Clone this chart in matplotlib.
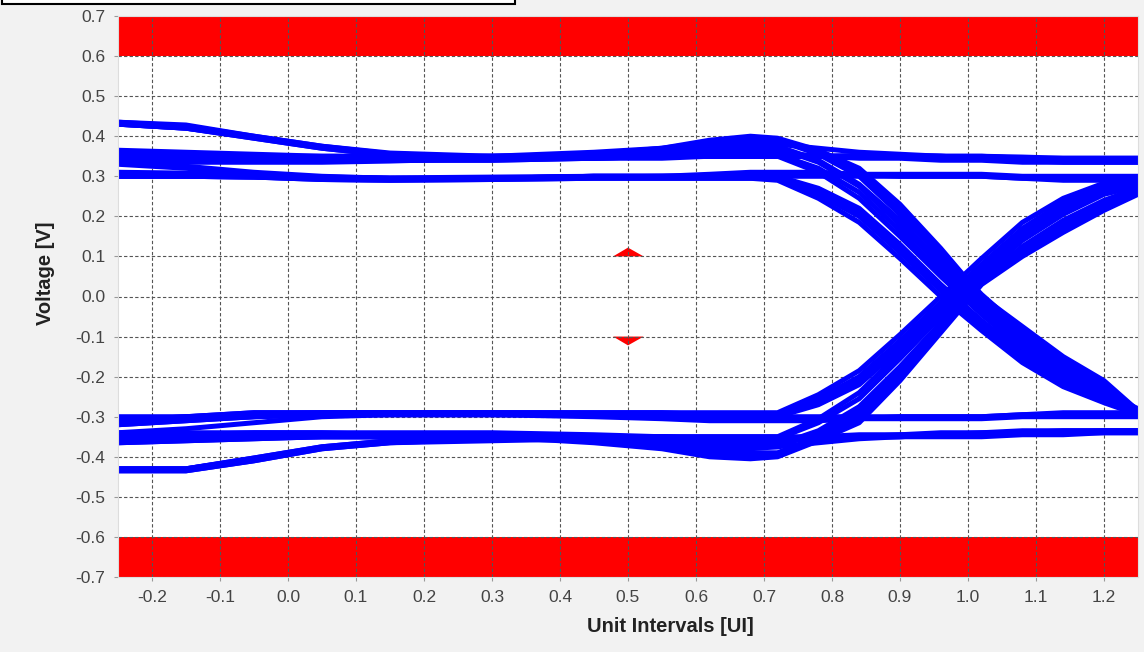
import numpy as np
import matplotlib.pyplot as plt
from matplotlib.patches import Rectangle, Polygon

plt.rcParams['font.family'] = ['Liberation Sans', 'DejaVu Sans']
plt.rcParams['axes.unicode_minus'] = False

# sample instants (UI) shared by every trace
ui = [-0.25, -0.15, -0.05, 0.05, 0.15, 0.3, 0.45, 0.55, 0.62, 0.68,
      0.72, 0.78, 0.84, 0.9, 0.96, 1.02, 1.08, 1.14, 1.2, 1.25]

# traces that stay high for the whole window (V)
high_traces = [
    [0.43, 0.42, 0.395, 0.37, 0.352, 0.345, 0.345, 0.35, 0.35, 0.35, 0.35, 0.35, 0.35, 0.35, 0.35, 0.345, 0.345, 0.34, 0.34, 0.34],
    [0.435, 0.428, 0.40, 0.375, 0.358, 0.35, 0.35, 0.35, 0.35, 0.35, 0.35, 0.35, 0.352, 0.352, 0.35, 0.35, 0.348, 0.345, 0.345, 0.345],
    [0.35, 0.345, 0.34, 0.34, 0.34, 0.34, 0.345, 0.35, 0.36, 0.365, 0.36, 0.35, 0.345, 0.345, 0.34, 0.34, 0.335, 0.335, 0.335, 0.335],
    [0.365, 0.36, 0.355, 0.35, 0.35, 0.35, 0.35, 0.35, 0.35, 0.35, 0.35, 0.35, 0.35, 0.35, 0.35, 0.35, 0.345, 0.345, 0.345, 0.345],
    [0.30, 0.30, 0.298, 0.292, 0.29, 0.292, 0.295, 0.295, 0.295, 0.295, 0.30, 0.30, 0.30, 0.30, 0.30, 0.30, 0.295, 0.295, 0.295, 0.295],
    [0.305, 0.305, 0.302, 0.298, 0.296, 0.298, 0.30, 0.30, 0.30, 0.30, 0.305, 0.305, 0.305, 0.305, 0.305, 0.305, 0.30, 0.30, 0.30, 0.30],
    [0.34, 0.325, 0.31, 0.30, 0.295, 0.295, 0.30, 0.30, 0.305, 0.31, 0.31, 0.31, 0.305, 0.30, 0.30, 0.30, 0.295, 0.29, 0.29, 0.29],
    [0.43, 0.42, 0.398, 0.372, 0.355, 0.342, 0.35, 0.36, 0.375, 0.38, 0.38, 0.37, 0.36, 0.355, 0.35, 0.345, 0.34, 0.335, 0.335, 0.335],
]

# traces that stay low for the whole window (V)
low_traces = [
    [-0.43, -0.43, -0.403, -0.375, -0.36, -0.355, -0.35, -0.35, -0.355, -0.355, -0.355, -0.35, -0.35, -0.345, -0.345, -0.345, -0.34, -0.34, -0.335, -0.335],
    [-0.435, -0.435, -0.41, -0.38, -0.365, -0.36, -0.355, -0.355, -0.36, -0.36, -0.36, -0.355, -0.35, -0.35, -0.345, -0.345, -0.34, -0.34, -0.34, -0.34],
    [-0.35, -0.345, -0.34, -0.34, -0.34, -0.34, -0.345, -0.35, -0.36, -0.365, -0.36, -0.35, -0.345, -0.345, -0.34, -0.34, -0.335, -0.335, -0.335, -0.335],
    [-0.365, -0.36, -0.355, -0.35, -0.35, -0.35, -0.35, -0.35, -0.35, -0.35, -0.35, -0.35, -0.35, -0.35, -0.35, -0.35, -0.345, -0.345, -0.34, -0.34],
    [-0.31, -0.30, -0.29, -0.29, -0.29, -0.29, -0.29, -0.29, -0.295, -0.30, -0.30, -0.30, -0.30, -0.30, -0.30, -0.30, -0.295, -0.295, -0.295, -0.295],
    [-0.305, -0.305, -0.30, -0.295, -0.293, -0.293, -0.295, -0.297, -0.30, -0.305, -0.305, -0.305, -0.305, -0.305, -0.305, -0.305, -0.30, -0.30, -0.30, -0.30],
    [-0.32, -0.31, -0.30, -0.295, -0.295, -0.295, -0.30, -0.305, -0.31, -0.31, -0.31, -0.31, -0.305, -0.30, -0.30, -0.30, -0.295, -0.29, -0.29, -0.29],
    [-0.43, -0.43, -0.405, -0.378, -0.362, -0.355, -0.36, -0.37, -0.38, -0.38, -0.375, -0.365, -0.355, -0.35, -0.345, -0.34, -0.34, -0.335, -0.335, -0.335],
]

# high -> low transitions (V)
falling_traces = [
    [0.30, 0.30, 0.298, 0.292, 0.29, 0.292, 0.295, 0.295, 0.295, 0.295, 0.29, 0.245, 0.185, 0.095, 0.0, -0.085, -0.165, -0.225, -0.265, -0.295],
    [0.31, 0.308, 0.302, 0.296, 0.294, 0.295, 0.30, 0.30, 0.30, 0.30, 0.295, 0.255, 0.20, 0.11, 0.015, -0.075, -0.155, -0.215, -0.26, -0.29],
    [0.30, 0.30, 0.298, 0.294, 0.292, 0.295, 0.298, 0.30, 0.30, 0.30, 0.30, 0.262, 0.21, 0.12, 0.022, -0.068, -0.148, -0.21, -0.258, -0.29],
    [0.33, 0.32, 0.305, 0.298, 0.295, 0.295, 0.30, 0.30, 0.30, 0.30, 0.30, 0.27, 0.22, 0.13, 0.03, -0.06, -0.14, -0.205, -0.255, -0.29],
    [0.355, 0.352, 0.348, 0.344, 0.34, 0.34, 0.345, 0.345, 0.35, 0.35, 0.35, 0.31, 0.245, 0.15, 0.05, -0.045, -0.13, -0.20, -0.25, -0.285],
    [0.43, 0.42, 0.395, 0.37, 0.352, 0.345, 0.345, 0.35, 0.355, 0.355, 0.355, 0.32, 0.26, 0.165, 0.06, -0.035, -0.12, -0.19, -0.245, -0.285],
    [0.345, 0.342, 0.34, 0.34, 0.34, 0.345, 0.35, 0.355, 0.365, 0.37, 0.37, 0.335, 0.275, 0.18, 0.075, -0.025, -0.11, -0.18, -0.24, -0.28],
    [0.435, 0.425, 0.40, 0.375, 0.356, 0.348, 0.35, 0.355, 0.365, 0.375, 0.375, 0.34, 0.28, 0.19, 0.085, -0.02, -0.105, -0.175, -0.235, -0.285],
    [0.36, 0.357, 0.352, 0.347, 0.345, 0.35, 0.36, 0.37, 0.385, 0.39, 0.39, 0.355, 0.30, 0.205, 0.10, -0.01, -0.095, -0.165, -0.225, -0.285],
    [0.35, 0.35, 0.35, 0.35, 0.35, 0.35, 0.355, 0.36, 0.38, 0.395, 0.39, 0.36, 0.31, 0.215, 0.11, 0.005, -0.085, -0.158, -0.218, -0.285],
    [0.335, 0.335, 0.335, 0.335, 0.338, 0.345, 0.355, 0.37, 0.39, 0.40, 0.395, 0.365, 0.32, 0.23, 0.12, 0.0, -0.075, -0.15, -0.21, -0.285],
]

# low -> high transitions (V)
rising_traces = [
    [-0.31, -0.30, -0.29, -0.29, -0.29, -0.29, -0.29, -0.29, -0.29, -0.29, -0.29, -0.245, -0.185, -0.095, 0.0, 0.095, 0.185, 0.245, 0.283, 0.29],
    [-0.32, -0.31, -0.30, -0.295, -0.295, -0.295, -0.295, -0.30, -0.30, -0.30, -0.30, -0.255, -0.20, -0.11, -0.015, 0.08, 0.17, 0.235, 0.275, 0.29],
    [-0.30, -0.30, -0.295, -0.29, -0.29, -0.29, -0.292, -0.295, -0.30, -0.30, -0.30, -0.262, -0.21, -0.12, -0.022, 0.072, 0.162, 0.23, 0.272, 0.288],
    [-0.34, -0.33, -0.315, -0.30, -0.295, -0.295, -0.295, -0.30, -0.30, -0.30, -0.30, -0.27, -0.22, -0.13, -0.03, 0.065, 0.155, 0.225, 0.27, 0.285],
    [-0.35, -0.35, -0.35, -0.35, -0.35, -0.35, -0.35, -0.35, -0.35, -0.35, -0.35, -0.305, -0.24, -0.14, -0.04, 0.06, 0.15, 0.215, 0.26, 0.28],
    [-0.43, -0.43, -0.403, -0.375, -0.36, -0.355, -0.35, -0.35, -0.355, -0.355, -0.355, -0.315, -0.255, -0.155, -0.05, 0.05, 0.14, 0.205, 0.255, 0.275],
    [-0.36, -0.355, -0.35, -0.345, -0.345, -0.345, -0.35, -0.355, -0.365, -0.37, -0.37, -0.335, -0.275, -0.175, -0.065, 0.04, 0.125, 0.19, 0.24, 0.27],
    [-0.435, -0.435, -0.41, -0.38, -0.365, -0.355, -0.355, -0.36, -0.37, -0.375, -0.375, -0.34, -0.285, -0.185, -0.07, 0.038, 0.118, 0.183, 0.232, 0.265],
    [-0.365, -0.36, -0.355, -0.35, -0.35, -0.35, -0.36, -0.37, -0.385, -0.39, -0.39, -0.35, -0.295, -0.19, -0.075, 0.035, 0.11, 0.175, 0.225, 0.26],
    [-0.35, -0.35, -0.35, -0.35, -0.35, -0.35, -0.36, -0.375, -0.395, -0.40, -0.395, -0.355, -0.305, -0.20, -0.082, 0.032, 0.105, 0.168, 0.22, 0.258],
    [-0.34, -0.34, -0.34, -0.34, -0.345, -0.35, -0.365, -0.38, -0.40, -0.405, -0.40, -0.36, -0.315, -0.21, -0.09, 0.03, 0.10, 0.16, 0.215, 0.255],
]

# mask limits
mask_top = [0.6, 0.7]
mask_bottom = [-0.7, -0.6]
center_upper = [(0.478, 0.10), (0.50, 0.122), (0.523, 0.10)]
center_lower = [(0.478, -0.10), (0.50, -0.122), (0.523, -0.10)]

x_ticks = np.round(np.arange(-0.2, 1.21, 0.1), 1)
y_ticks = np.round(np.arange(-0.7, 0.71, 0.1), 1)

fig = plt.figure(figsize=(11.44, 6.52), dpi=100, facecolor='#f2f2f2')
ax = fig.add_axes([118 / 1144, 75 / 652, 1020 / 1144, 561 / 652])
ax.set_facecolor('white')

# eye mask
ax.axhspan(mask_top[0], mask_top[1], color='#ff0000', lw=0, zorder=0.3)
ax.axhspan(mask_bottom[0], mask_bottom[1], color='#ff0000', lw=0, zorder=0.3)
ax.add_patch(Polygon(center_upper, closed=True, color='#ff0000', lw=0, zorder=0.3))
ax.add_patch(Polygon(center_lower, closed=True, color='#ff0000', lw=0, zorder=0.3))

for tr in high_traces + low_traces + falling_traces + rising_traces:
    ax.plot(ui, tr, color='#0000ff', lw=3.6, solid_joinstyle='round',
            solid_capstyle='butt', zorder=2)

ax.set_xlim(-0.25, 1.25)
ax.set_ylim(-0.7, 0.7)
ax.set_xticks(x_ticks)
ax.set_yticks(y_ticks)
ax.set_xticklabels(['%.1f' % (v + 0.0) for v in x_ticks])
ax.set_yticklabels(['%.1f' % (v + 0.0) for v in y_ticks])
ax.tick_params(length=3, width=0.8, color='#999999', pad=6, labelsize=12.5,
               labelcolor='#444444')
ax.set_axisbelow(True)
ax.grid(True, color='#555555', ls=(0, (3, 2)), lw=0.8)
for sp in ax.spines.values():
    sp.set_color('#dddddd')
    sp.set_linewidth(0.8)

fig.text(670 / 1144, 1 - 627 / 652, 'Unit Intervals [UI]', fontsize=14.5,
         fontweight='bold', color='#222222', ha='center', va='center')
fig.text(45.5 / 1144, 1 - 273.5 / 652, 'Voltage [V]', fontsize=14.5,
         fontweight='bold', color='#222222', ha='center', va='center', rotation=90)

# header box at the top-left
fig.patches.append(Rectangle((2 / 1144, 648 / 652), 513 / 1144, 10 / 652,
                             transform=fig.transFigure, facecolor='white',
                             edgecolor='black', lw=1.5))

fig.savefig('out.png', dpi=100, facecolor=fig.get_facecolor())
